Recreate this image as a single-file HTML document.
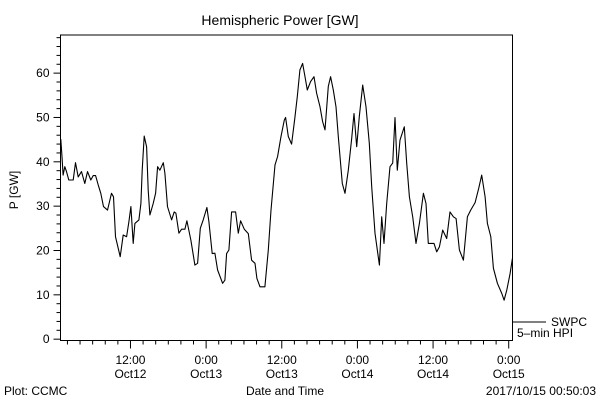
<!DOCTYPE html>
<html><head><meta charset="utf-8"><style>
html,body{margin:0;padding:0;background:#fff;}
svg{display:block;font-family:"Liberation Sans",sans-serif;}
</style></head><body>
<svg id="chart" width="600" height="400" viewBox="0 0 600 400" xmlns="http://www.w3.org/2000/svg">
<rect x="0" y="0" width="600" height="400" fill="#fff"/>
<text x="280" y="25" font-size="14" text-anchor="middle" fill="#000">Hemispheric Power [GW]</text>
<text transform="translate(18,190) rotate(-90)" font-size="12" text-anchor="middle" fill="#000">P [GW]</text>
<text x="285" y="395" font-size="12" text-anchor="middle" fill="#000">Date and Time</text>
<text x="4" y="395" font-size="12" fill="#000">Plot: CCMC</text>
<text x="596" y="395" font-size="12" text-anchor="end" fill="#000">2017/10/15 00:50:03</text>
<g id="axes"></g>
<g id="series"></g>
<g>
<line x1="513" y1="322" x2="546" y2="322" stroke="#000" stroke-width="1"/>
<text x="551" y="326" font-size="12" fill="#000">SWPC</text>
<text x="517" y="337" font-size="12" fill="#000">5–min HPI</text>
</g>
</svg>
<script>
const hours = [0.95,1.16,1.32,1.59,1.85,2.22,2.91,3.28,3.70,4.23,4.76,5.19,5.71,6.08,6.46,6.88,7.30,7.72,8.36,8.99,9.31,9.63,10.37,10.85,11.38,11.75,12.06,12.43,12.70,13.33,13.65,13.86,14.18,14.55,14.81,15.08,15.61,15.98,16.30,16.67,17.20,17.46,17.88,18.52,18.94,19.21,19.68,20.11,20.63,20.95,21.59,22.22,22.65,23.07,23.54,24.13,24.44,24.97,25.40,25.82,26.61,26.98,27.25,27.62,28.04,28.68,29.10,29.47,30.05,30.69,31.22,31.75,32.06,32.54,33.33,33.86,34.29,34.92,35.34,35.87,36.40,36.61,37.03,37.56,38.09,38.46,38.88,39.31,39.68,40.05,40.58,41.11,41.53,42.06,42.48,42.85,43.38,43.75,44.18,44.60,44.97,45.60,46.03,46.56,47.09,47.46,47.88,48.30,48.83,49.36,49.89,50.26,50.79,51.48,51.85,52.22,52.64,53.17,53.59,53.96,54.33,54.76,55.44,55.82,56.24,56.77,57.30,57.83,58.46,58.88,59.25,60.15,60.58,61.00,61.53,62.17,62.69,63.22,63.65,64.18,64.81,65.45,65.97,66.66,67.24,67.72,68.25,68.62,69.15,69.57,70.21,70.90,71.27,71.69,72.22,72.59];
const power = [45.1,40.8,37.0,38.9,37.8,35.9,35.9,39.8,36.6,37.8,35.1,37.8,35.9,36.9,36.9,34.8,32.9,29.9,29.1,32.9,32.1,23.1,18.6,23.5,23.1,26.5,29.9,21.6,26.1,26.9,30.6,38.1,45.8,43.4,33.6,28.0,30.6,32.9,38.9,38.1,39.8,37.4,29.9,26.9,28.7,28.4,23.9,24.8,24.8,26.7,22.3,16.7,17.1,25.0,26.9,29.7,26.5,19.3,19.4,15.6,12.6,13.3,19.3,20.1,28.7,28.7,23.9,26.7,24.8,23.8,17.8,17.1,13.7,11.8,11.8,20.1,29.1,39.3,41.2,45.7,49.4,50.0,45.7,44.0,50.0,54.7,60.7,62.2,59.2,56.2,58.1,59.2,55.5,52.4,49.1,47.2,57.0,59.2,56.2,52.4,45.7,35.1,32.9,38.1,45.3,50.9,43.4,50.2,57.3,52.4,44.2,34.4,23.9,16.7,27.6,21.6,30.6,38.9,39.7,50.0,38.1,44.9,47.9,39.7,32.1,27.6,21.6,26.1,32.9,30.6,21.6,21.6,19.7,20.8,24.6,22.7,28.7,27.6,27.2,20.1,17.8,27.6,29.1,30.8,34.0,37.0,32.1,26.1,23.1,16.0,12.6,10.3,8.8,11.1,14.8,18.2];
const yTicks = [0,10,20,30,40,50,60];
const xTickHours = [12,24,36,48,60,72];
const xTickTimes = ["12:00","0:00","12:00","0:00","12:00","0:00"];
const xTickDates = ["Oct12","Oct13","Oct13","Oct14","Oct14","Oct15"];

const L=60.5,R=512.5,T=35,B=340.5;
const X0=0.9,X1=72.6,Y0=-0.3,Y1=68.6;
function sx(h){return L+(h-X0)/(X1-X0)*(R-L);}
function sy(v){return B-(v-Y0)/(Y1-Y0)*(B-T);}
const NS="http://www.w3.org/2000/svg";
function mk(tag,attrs,parent){const e=document.createElementNS(NS,tag);for(const k in attrs)e.setAttribute(k,attrs[k]);parent.appendChild(e);return e;}
const axes=document.getElementById('axes');
const frame=mk('rect',{x:L,y:T,width:R-L,height:B-T,fill:'none',stroke:'#000','stroke-width':1},axes);


// y minor ticks
for(let v=0;v<=68;v+=2){
  const major=v%10===0;
  const t=mk('line',{x1:L-(major?7:4),x2:L,y1:sy(v),y2:sy(v),stroke:'#000','stroke-width':1},axes);
  
  
}
yTicks.forEach(v=>{
  const t=mk('text',{x:L-11,y:sy(v)+4,'font-size':12,'text-anchor':'end',fill:'#000'},axes);
  t.textContent=v;
  
  
});
// x ticks every 2h
for(let h=2;h<=72;h+=2){
  if(h<X0)continue;
  const major=h%12===0;
  const t=mk('line',{x1:sx(h),x2:sx(h),y1:B,y2:B+(major?8:4),stroke:'#000','stroke-width':1},axes);
  
  
}
xTickHours.forEach((h,i)=>{
  const a=mk('text',{x:sx(h),y:364,'font-size':12,'text-anchor':'middle',fill:'#000'},axes);
  a.textContent=xTickTimes[i];
  
  
  const b=mk('text',{x:sx(h),y:378,'font-size':12,'text-anchor':'middle',fill:'#000'},axes);
  b.textContent=xTickDates[i];
  
  
});
const pts=hours.map((h,i)=>sx(h).toFixed(1)+','+sy(power[i]).toFixed(1)).join(' ');
const line=mk('polyline',{points:pts,fill:'none',stroke:'#000','stroke-width':1.1,'stroke-linejoin':'round'},document.getElementById('series'));


</script>
</body></html>
